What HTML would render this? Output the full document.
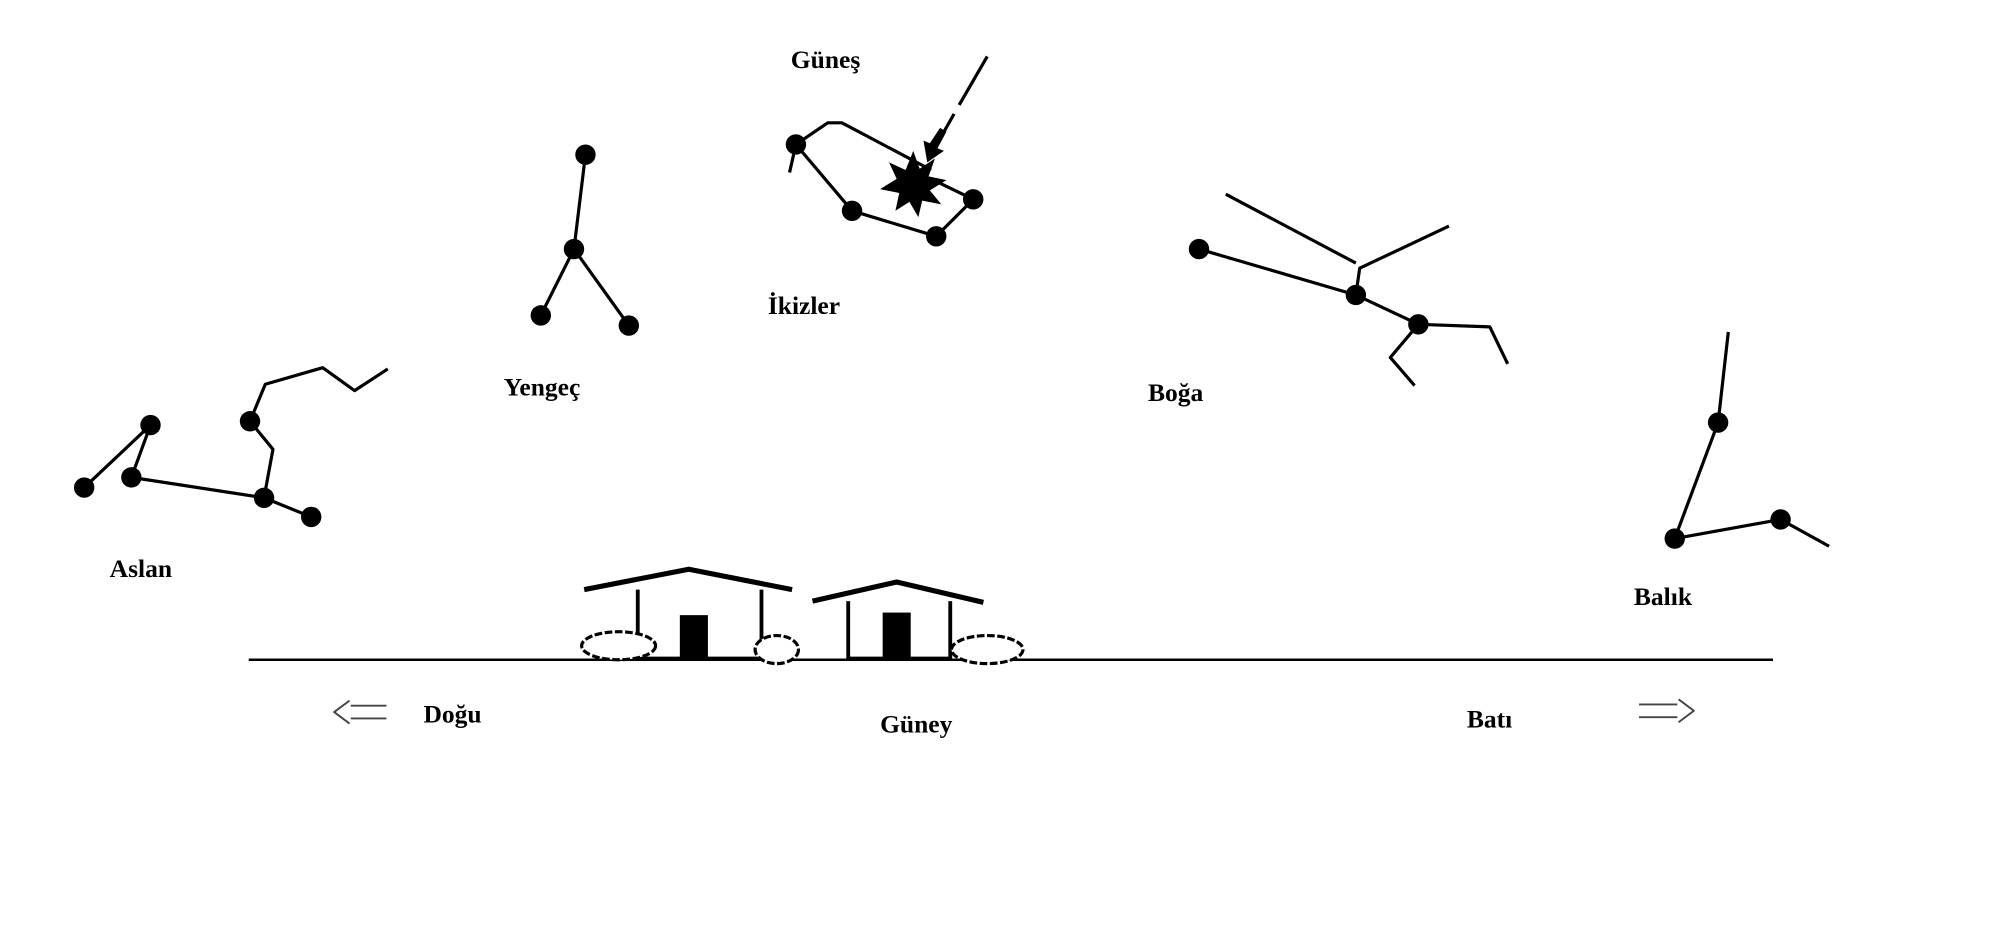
<!DOCTYPE html>
<html><head><meta charset="utf-8"><style>html,body{margin:0;padding:0;background:#fff}svg{display:block}</style></head>
<body>
<svg width="2000" height="942" viewBox="0 0 1568 738" xmlns="http://www.w3.org/2000/svg">
<rect width="1568" height="738" fill="#fff"/>
<g font-family="Liberation Serif, serif" font-weight="bold" font-size="20" fill="#000">
<text x="620" y="53">Güneş</text>
<text x="602" y="246">İkizler</text>
<text x="395" y="310">Yengeç</text>
<text x="900" y="314">Boğa</text>
<text x="86" y="452">Aslan</text>
<text x="1281" y="474">Balık</text>
<text x="332" y="566">Doğu</text>
<text x="690" y="574">Güney</text>
<text x="1150" y="570">Batı</text>
</g>
<g stroke="#000" stroke-width="2.5" fill="none" stroke-linejoin="round">
<polyline points="66,382 118,333 103,374 207,390 244,405"/>
<polyline points="207,390 214,352 196,330 208,301 253,288 278,306 304,289"/>
<polyline points="459,121 450,195 424,247"/>
<line x1="450" y1="195" x2="493" y2="255"/>
<polyline points="624,113 649,96 660,96 730,133"/>
<polyline points="624,113 668,165 734,185 763,156 730,140"/>
<line x1="624" y1="113" x2="619" y2="135"/>
<line x1="774" y1="44" x2="752" y2="82"/>
<line x1="748" y1="89" x2="735" y2="112"/>
<polyline points="940,195 1063,231 1112,254 1168,256 1182,285"/>
<line x1="961" y1="152" x2="1063" y2="206"/>
<polyline points="1063,231 1066,210 1136,177"/>
<polyline points="1112,254 1090,280 1109,302"/>
<polyline points="1355,260 1347,331 1313,422 1396,407 1434,428"/>
<line x1="195" y1="517" x2="1390" y2="517" stroke-width="2"/>
<polyline points="458,462 540,446 621,462" stroke-width="4"/>
<line x1="500" y1="462" x2="500" y2="517" stroke-width="3"/>
<line x1="597" y1="462" x2="597" y2="517" stroke-width="3"/>
<line x1="500" y1="516" x2="597" y2="516" stroke-width="3"/>
<polyline points="637,471 703,456 771,472" stroke-width="4"/>
<line x1="665" y1="471" x2="665" y2="517" stroke-width="3"/>
<line x1="745" y1="471" x2="745" y2="517" stroke-width="3"/>
<line x1="665" y1="516" x2="745" y2="516" stroke-width="3"/>
<g stroke-width="1.5" stroke="#444">
<line x1="275" y1="553" x2="303" y2="553"/><line x1="275" y1="563" x2="303" y2="563"/>
<polyline points="274,549 262,558 274,567"/>
<line x1="1285" y1="552" x2="1315" y2="552"/><line x1="1285" y1="562" x2="1315" y2="562"/>
<polyline points="1316,548 1328,557 1316,566"/>
</g>
</g>
<rect x="533" y="482" width="22" height="35" fill="#000"/>
<rect x="692" y="480" width="22" height="37" fill="#000"/>
<g fill="#fff" stroke="#000" stroke-width="2.5" stroke-dasharray="6 2">
<ellipse cx="485" cy="506" rx="29" ry="11"/>
<ellipse cx="609" cy="509" rx="17" ry="11"/>
<ellipse cx="774" cy="509" rx="28" ry="11"/>
</g>
<g fill="#000">
<circle cx="118" cy="333" r="8"/><circle cx="66" cy="382" r="8"/><circle cx="103" cy="374" r="8"/>
<circle cx="196" cy="330" r="8"/><circle cx="207" cy="390" r="8"/><circle cx="244" cy="405" r="8"/>
<circle cx="459" cy="121" r="8"/><circle cx="450" cy="195" r="8"/><circle cx="424" cy="247" r="8"/><circle cx="493" cy="255" r="8"/>
<circle cx="624" cy="113" r="8"/><circle cx="668" cy="165" r="8"/><circle cx="734" cy="185" r="8"/><circle cx="763" cy="156" r="8"/>
<circle cx="940" cy="195" r="8"/><circle cx="1063" cy="231" r="8"/><circle cx="1112" cy="254" r="8"/>
<circle cx="1347" cy="331" r="8"/><circle cx="1313" cy="422" r="8"/><circle cx="1396" cy="407" r="8"/>
<polygon points="716,118 721,132 733,124 728,138 742,141 729,149 738,160 723,157 720,170 713,158 702,165 705,151 690,148 703,140 697,127 710,133"/>
<polygon points="727,127 724,110 729,112 737,100 742,103 735,116 740,118"/>
</g>
</svg>
</body></html>
